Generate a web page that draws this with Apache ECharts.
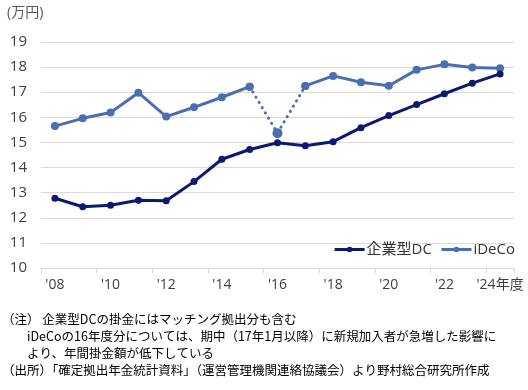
<!DOCTYPE html>
<html><head><meta charset="utf-8">
<script src="https://cdn.jsdelivr.net/npm/echarts@6/dist/echarts.min.js"></script>
<style>html,body{margin:0;padding:0;background:#fff}#c{width:528px;height:390px}</style>
</head><body><div id="c"></div>
<script>
var categories = ["'08","'09","'10","'11","'12","'13","'14","'15","'16","'17","'18","'19","'20","'21","'22","'23","'24年度"];
var dcValues = [12.78,12.44,12.50,12.70,12.68,13.44,14.33,14.72,14.99,14.87,15.03,15.59,16.07,16.51,16.94,17.36,17.73];
var idecoValues = [15.65,15.96,16.19,16.98,16.03,16.40,16.80,17.22,15.37,17.25,17.65,17.40,17.26,17.89,18.11,17.98,17.95];
var yTicks = {min:10, max:19, interval:1};
var notes = [
  "（注） 企業型DCの掛金にはマッチング拠出分も含む",
  "　　iDeCoの16年度分については、期中（17年1月以降）に新規加入者が急増した影響に",
  "　　より、年間掛金額が低下している",
  "（出所）「確定拠出年金統計資料」（運営管理機関連絡協議会）より野村総合研究所作成"
];
var dipIndex = 8;
var idecoSolid = idecoValues.map(function(v,i){return i===dipIndex?null:v;});
var idecoDotted = idecoValues.map(function(v,i){return Math.abs(i-dipIndex)<=1?v:null;});

var DC = '#0b1a6e', ID = '#4a6fb0';
var font = '"Segoe UI","Open Sans","Noto Sans CJK JP",sans-serif';
var chart = echarts.init(document.getElementById('c'));
chart.setOption({
  animation:false,
  textStyle:{fontFamily:font},
  grid:{left:41,right:14,top:42,bottom:122},
  legend:{
    right:8, top:237, itemWidth:30, itemHeight:7, itemGap:8,
    lineStyle:{width:3},
    textStyle:{fontSize:15,color:'#333',fontFamily:font,padding:[0,0,0,-3]},
    data:[{name:'企業型DC'},{name:'iDeCo'}]
  },
  xAxis:{
    type:'category', data:categories, boundaryGap:true,
    axisLine:{lineStyle:{color:'#d9d9d9',width:1}},
    axisTick:{show:true,length:5,lineStyle:{color:'#d9d9d9'}},
    axisLabel:{interval:1,color:'#404040',fontSize:14,margin:10,fontFamily:font}
  },
  yAxis:{
    type:'value', min:yTicks.min, max:yTicks.max, interval:yTicks.interval,
    axisLine:{show:false}, axisTick:{show:false},
    splitLine:{lineStyle:{color:'#d9d9d9',width:1}},
    axisLabel:{color:'#404040',fontSize:15,margin:14,fontFamily:font}
  },
  graphic:[
    {type:'text',left:7,top:6,style:{text:'(万円)',fill:'#595959',font:'14px '+font}}
  ].concat(notes.map(function(t,i){
    return {type:'text',left:2,top:313+i*17,style:{text:t,fill:'#000',font:'12.5px "Noto Sans CJK JP",sans-serif'}};
  })),
  series:[
    {name:'企業型DC',type:'line',data:dcValues,symbol:'circle',symbolSize:7,
     itemStyle:{color:DC},lineStyle:{color:DC,width:3},z:3},
    {name:'iDeCo',type:'line',data:idecoSolid,symbol:'circle',symbolSize:8,connectNulls:false,
     itemStyle:{color:ID},lineStyle:{color:ID,width:3},z:2},
    {name:'iDeCo点線',type:'line',data:idecoDotted,symbol:'circle',
     symbolSize:function(v,p){return p.dataIndex===dipIndex?10:8;},
     itemStyle:{color:ID},lineStyle:{color:ID,width:3,type:[0.1,6],cap:'round'},z:2}
  ]
});
</script></body></html>
